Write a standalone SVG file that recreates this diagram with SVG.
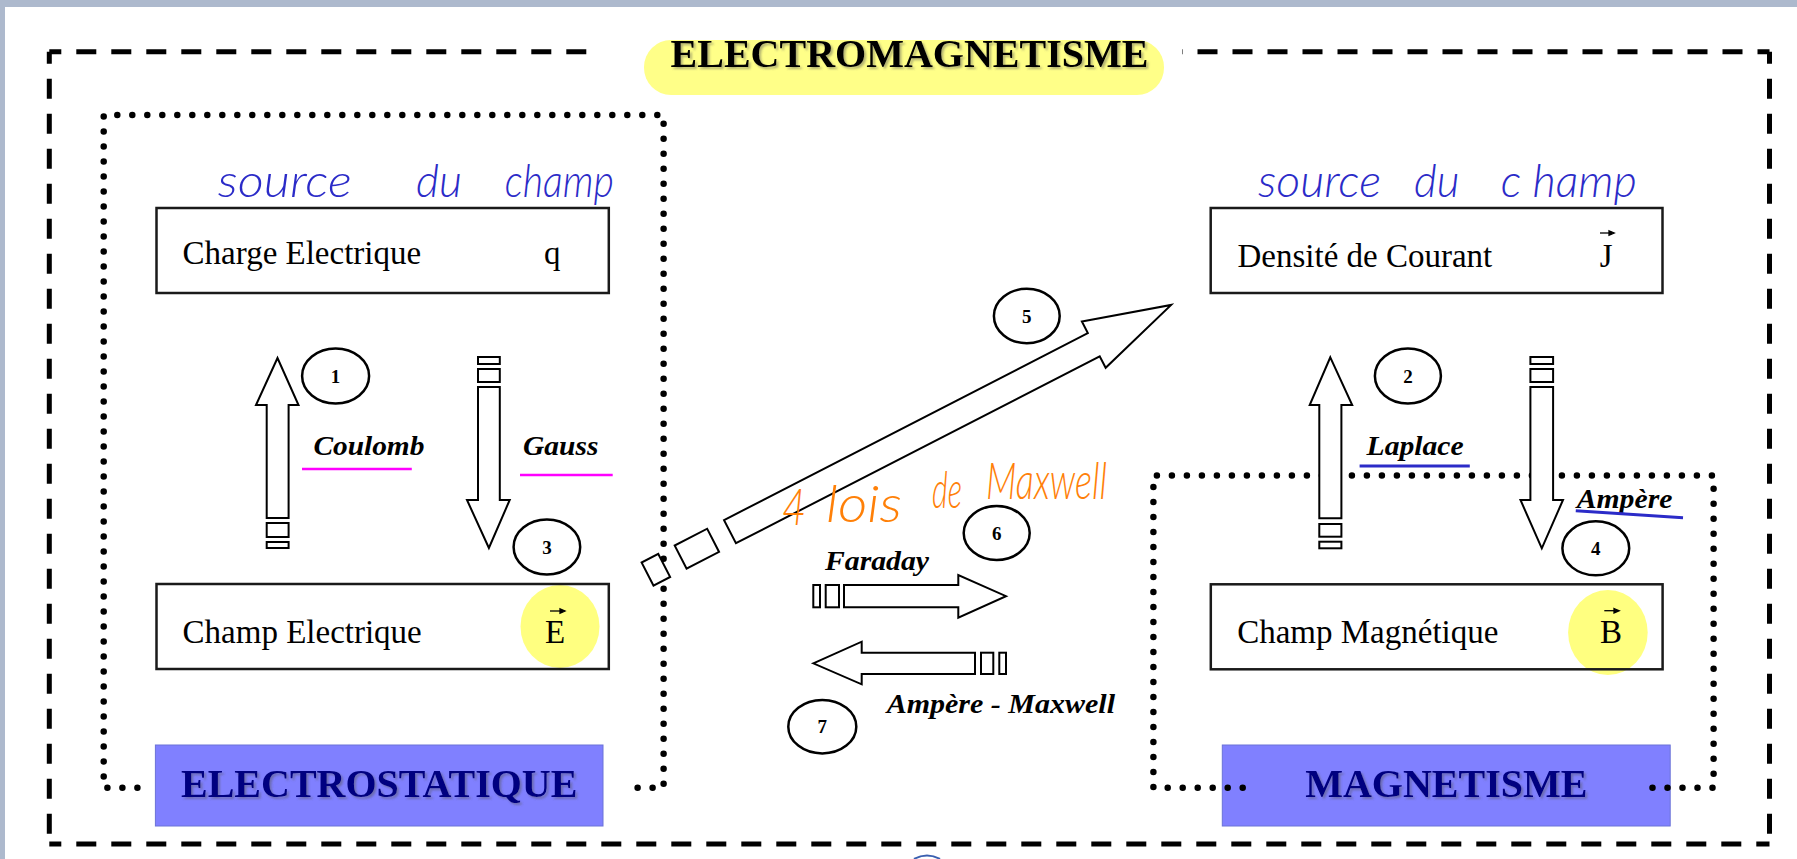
<svg xmlns="http://www.w3.org/2000/svg" width="1797" height="859" viewBox="0 0 1797 859">
<defs>
<style>
.dash{fill:none;stroke:#000;stroke-width:5;stroke-dasharray:20 15;stroke-dashoffset:8}
.dots{fill:none;stroke:#000;stroke-width:6.5;stroke-linecap:round;stroke-dasharray:0 15}
.box{fill:none;stroke:#1a1a1a;stroke-width:2.5}
.arr{fill:#fff;stroke:#000;stroke-width:2}
.circ{fill:#fff;stroke:#000;stroke-width:2.5}
.num{font-family:"Liberation Serif",serif;font-weight:bold;font-size:19px;text-anchor:middle;fill:#000}
.txt{font-family:"Liberation Serif",serif;font-size:33px;fill:#000}
.law{font-family:"Liberation Serif",serif;font-weight:bold;font-style:italic;font-size:27px;fill:#000}
.hand{font-family:Lato,"Open Sans",sans-serif;font-style:italic;font-weight:300;font-size:46px;fill:#2b2bc8}
.handO{font-family:Lato,"Open Sans",sans-serif;font-style:italic;font-weight:300;font-size:52px;fill:#ff8008}
.lbl{fill:#8080ff;stroke:#6a72d8;stroke-width:1}
.lbltxt{font-family:"Liberation Serif",serif;font-weight:bold;font-size:40px;fill:#000080;text-anchor:middle}
.hl{fill:#ffff80}
.vec{stroke:#000;stroke-width:1.3;fill:#000}
</style>
<filter id="sh" x="-5%" y="-20%" width="110%" height="140%">
<feDropShadow dx="2" dy="2" stdDeviation="1" flood-color="#555" flood-opacity="0.45"/>
</filter>
</defs>
<rect x="0" y="0" width="1797" height="859" fill="#fff"/>
<rect x="0" y="0" width="1797" height="7" fill="#adb9cd"/>
<rect x="0" y="0" width="5" height="859" fill="#adb9cd"/>

<g id="frame-electromagnetisme">
<path class="dash" d="M49.3,51.7 H596"/>
<path class="dash" d="M1769.5,51.7 H1182"/>
<path class="dash" d="M49.3,51.7 V844"/>
<path class="dash" d="M1769.5,51.7 V844"/>
<path class="dash" d="M49.3,844 H1769.5"/>
<rect x="644" y="40" width="520" height="55" rx="27" fill="#ffff88"/>
<text x="909.5" y="66.7" font-family="Liberation Serif, serif" font-weight="bold" font-size="40" text-anchor="middle" filter="url(#sh)">ELECTROMAGNETISME</text>
<path d="M914,859 Q927,852 940,859" fill="none" stroke="#3a5fb0" stroke-width="2"/>
</g>

<g id="group-electrostatique">
<path class="dots" d="M137.4,787.7 H103.7 V115 H663.6 V787.7 H622.6"/>
<rect class="lbl" x="155.4" y="745" width="447.6" height="81"/>
<text class="lbltxt" x="379.2" y="797" filter="url(#sh)">ELECTROSTATIQUE</text>
</g>

<g id="group-magnetisme">
<rect class="lbl" x="1222.3" y="745" width="447.9" height="81"/>
<text class="lbltxt" x="1446.3" y="797" filter="url(#sh)">MAGNETISME</text>
<path class="dots" d="M1242.7,787.7 H1153.4 V475.5 H1713.6 V787.7 H1642.6"/>
</g>

<g id="node-charge">
<text class="hand" x="217.8" y="197" textLength="134" lengthAdjust="spacingAndGlyphs">source</text>
<text class="hand" x="416" y="197" textLength="46" lengthAdjust="spacingAndGlyphs">du</text>
<text class="hand" x="504.8" y="197" textLength="109" lengthAdjust="spacingAndGlyphs">champ</text>
<rect class="box" x="156.5" y="208" width="452.3" height="85"/>
<text class="txt" x="182.6" y="264">Charge Electrique</text>
<text class="txt" x="544" y="264">q</text>
</g>

<g id="node-champ-electrique">
<ellipse class="hl" cx="560" cy="626.5" rx="39.5" ry="41.5"/>
<rect class="box" x="156.5" y="584" width="452.3" height="85"/>
<text class="txt" x="182.6" y="643">Champ Electrique</text>
<text class="txt" x="545" y="643">E</text>
<path class="vec" d="M550,611 H561"/><path class="vec" d="M560,608.8 L565,611 L560,613.2 Z" stroke-width="0.5"/>
</g>

<g id="node-densite">
<text class="hand" x="1258" y="197" textLength="123" lengthAdjust="spacingAndGlyphs">source</text>
<text class="hand" x="1414" y="197" textLength="45.5" lengthAdjust="spacingAndGlyphs">du</text>
<text class="hand" x="1500.7" y="197" textLength="136" lengthAdjust="spacingAndGlyphs">c hamp</text>
<rect class="box" x="1210.7" y="208" width="451.8" height="85"/>
<text class="txt" x="1237.5" y="266.7">Densité de Courant</text>
<text class="txt" x="1599.8" y="266.7">J</text>
<path class="vec" d="M1600,233 H1610"/><path class="vec" d="M1609,230.8 L1614.2,233 L1609,235.2 Z" stroke-width="0.5"/>
</g>

<g id="node-champ-magnetique">
<ellipse class="hl" cx="1607.9" cy="632.5" rx="39.8" ry="42.5"/>
<rect class="box" x="1210.8" y="584.3" width="451.8" height="85"/>
<text class="txt" x="1237.2" y="642.7">Champ Magnétique</text>
<text class="txt" x="1600" y="642.7">B</text>
<path class="vec" d="M1604.3,610.7 H1614.5"/><path class="vec" d="M1614,608.5 L1619.2,610.7 L1614,612.9 Z" stroke-width="0.5"/>
</g>

<g id="connectors">
<path class="arr" d="M277.5,358 L298.5,405 H288.6 V518 H266.7 V405 H256 Z"/>
<rect class="arr" x="266.7" y="523" width="21.9" height="14"/>
<rect class="arr" x="266.7" y="542" width="21.9" height="6"/>
<rect class="arr" x="478" y="357" width="21.8" height="7"/>
<rect class="arr" x="478" y="369" width="21.8" height="13"/>
<path class="arr" d="M478,387 H499.8 V500 H509.7 L488.9,548 L467,500 H478 Z"/>
<path class="arr" d="M1330.3,357.3 L1352.2,405 H1341.4 V518.3 H1319.3 V405 H1309.7 Z"/>
<rect class="arr" x="1319.3" y="524" width="22.1" height="12.7"/>
<rect class="arr" x="1319.3" y="541.7" width="22.1" height="6.6"/>
<rect class="arr" x="1530.4" y="357" width="22.7" height="7"/>
<rect class="arr" x="1530.4" y="369" width="22.7" height="13"/>
<path class="arr" d="M1530.4,387 H1553.1 V500 H1563 L1541.8,548.3 L1520.5,500 H1530.4 Z"/>
<g transform="translate(730,531.65) rotate(-27.2)">
<path class="arr" d="M0,-13 H409 V-26 L496,0 L409,26 V13 H0 Z"/>
<rect class="arr" x="-55.5" y="-13" width="36.5" height="26"/>
<rect class="arr" x="-92.7" y="-13" width="18.7" height="26"/>
</g>
<rect class="arr" x="813.3" y="585" width="6.7" height="22.3"/>
<rect class="arr" x="825.7" y="585" width="13.3" height="22.3"/>
<path class="arr" d="M844,585 H958.3 V575 L1006,596.2 L958.3,617.7 V607.3 H844 Z"/>
<path class="arr" d="M813.3,663.3 L861.7,641.7 V652.7 H975 V674 H861.7 V684.3 Z"/>
<rect class="arr" x="981" y="652.7" width="12.3" height="21.3"/>
<rect class="arr" x="999.3" y="652.7" width="6.7" height="21.3"/>
</g>

<g id="labels">
<text class="law" x="313.4" y="455" textLength="111" lengthAdjust="spacingAndGlyphs">Coulomb</text>
<path d="M302,469 H411.8" stroke="#ff00ff" stroke-width="2.5"/>
<text class="law" x="523" y="455" textLength="75.4" lengthAdjust="spacingAndGlyphs">Gauss</text>
<path d="M520,475 H612.7" stroke="#ff00ff" stroke-width="2.5"/>
<text class="law" x="1366.6" y="455" textLength="97" lengthAdjust="spacingAndGlyphs">Laplace</text>
<path d="M1359.6,466 H1469.8" stroke="#2b2bc8" stroke-width="3"/>
<text class="law" x="1576.7" y="508.3" textLength="95.7" lengthAdjust="spacingAndGlyphs">Ampère</text>
<path d="M1575.8,510.7 L1683,517.7" stroke="#2b2bc8" stroke-width="3"/>
<text class="law" x="825" y="570" textLength="104" lengthAdjust="spacingAndGlyphs">Faraday</text>
<text class="law" x="886.7" y="713.3" textLength="228.3" lengthAdjust="spacingAndGlyphs">Ampère - Maxwell</text>
<text class="handO" x="782" y="525" textLength="24" lengthAdjust="spacingAndGlyphs">4</text>
<text class="handO" x="826" y="522" textLength="76" lengthAdjust="spacingAndGlyphs">lois</text>
<text class="handO" x="932" y="508" textLength="30" lengthAdjust="spacingAndGlyphs">de</text>
<text class="handO" x="986" y="499" textLength="121" lengthAdjust="spacingAndGlyphs">Maxwell</text>
</g>

<g id="circles">
<g id="c1"><ellipse class="circ" cx="335.6" cy="376" rx="33.5" ry="27.5"/><text class="num" x="335.6" y="382.5">1</text></g>
<g id="c2"><ellipse class="circ" cx="1407.9" cy="376" rx="33" ry="27.5"/><text class="num" x="1407.9" y="382.5">2</text></g>
<g id="c3"><ellipse class="circ" cx="546.9" cy="547" rx="33.3" ry="27.5"/><text class="num" x="546.9" y="553.5">3</text></g>
<g id="c4"><ellipse class="circ" cx="1595.8" cy="548.3" rx="33.4" ry="27"/><text class="num" x="1595.8" y="554.8">4</text></g>
<g id="c5"><ellipse class="circ" cx="1026.8" cy="316" rx="32.9" ry="27.2"/><text class="num" x="1026.8" y="322.5">5</text></g>
<g id="c6"><ellipse class="circ" cx="996.7" cy="533" rx="33" ry="27"/><text class="num" x="996.7" y="539.5">6</text></g>
<g id="c7"><ellipse class="circ" cx="822.3" cy="726.7" rx="34" ry="26.7"/><text class="num" x="822.3" y="733.2">7</text></g>
</g>
</svg>
